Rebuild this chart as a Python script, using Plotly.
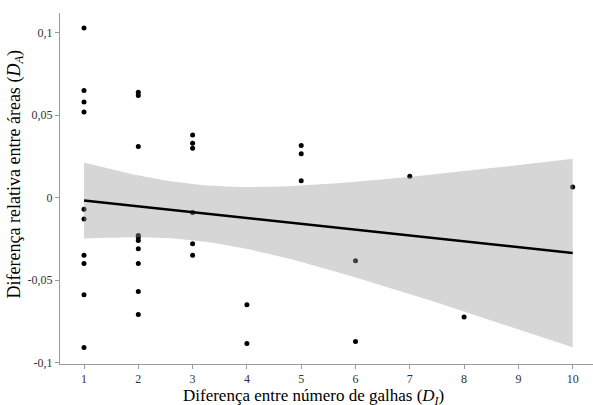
import numpy as np
import plotly.graph_objects as go

# Data
x_values = [1]*10 + [2]*10 + [3]*6 + [4]*2 + [5]*3 + [6]*2 + [7, 8, 10]
y_values = [0.103, 0.065, 0.058, 0.052, -0.007, -0.013, -0.035, -0.040, -0.059, -0.091,
            0.064, 0.062, 0.031, -0.023, -0.024, -0.026, -0.031, -0.040, -0.057, -0.071,
            0.038, 0.033, 0.030, -0.009, -0.028, -0.035,
            -0.065, -0.0886,
            0.0316, 0.0267, 0.0103,
            -0.0383, -0.0874,
            0.013, -0.0724, 0.0065]

x_ticks = [1, 2, 3, 4, 5, 6, 7, 8, 9, 10]
y_tickvals = [0.1, 0.05, 0, -0.05, -0.1]
y_ticktext = ["0,1", "0,05", "0", "-0,05", "-0,1"]
x_title = "Diferença entre número de galhas (<i>D</i><sub><i>I</i></sub>)"
y_title = "Diferença relativa entre áreas (<i>D</i><sub><i>A</i></sub>)"

# Linear fit with 95% confidence band (like ggplot geom_smooth(method="lm"))
x = np.array(x_values, dtype=float)
y = np.array(y_values, dtype=float)
n = len(x)
b1, b0 = np.polyfit(x, y, 1)
resid = y - (b0 + b1 * x)
s = np.sqrt(np.sum(resid**2) / (n - 2))
sxx = np.sum((x - x.mean())**2)
t_crit = 2.032  # t quantile 0.975, df = 34
xg = np.linspace(x.min(), x.max(), 80)
yg = b0 + b1 * xg
se = s * np.sqrt(1.0 / n + (xg - x.mean())**2 / sxx)
upper = yg + t_crit * se
lower = yg - t_crit * se

fig = go.Figure()
fig.add_trace(go.Scatter(x=x, y=y, mode="markers",
                         marker=dict(color="black", size=5), showlegend=False,
                         hoverinfo="x+y"))
fig.add_trace(go.Scatter(x=np.concatenate([xg, xg[::-1]]),
                         y=np.concatenate([upper, lower[::-1]]),
                         fill="toself", fillcolor="rgba(153,153,153,0.4)",
                         line=dict(width=0), mode="lines", showlegend=False,
                         hoverinfo="skip"))
fig.add_trace(go.Scatter(x=xg, y=yg, mode="lines",
                         line=dict(color="black", width=2.5), showlegend=False))

font_family = "Liberation Serif"
fig.update_layout(
    width=593, height=405,
    margin=dict(l=60, r=0, t=13, b=41, autoexpand=False),
    paper_bgcolor="white", plot_bgcolor="white",
    font=dict(family=font_family, color="black"),
    showlegend=False,
    annotations=[
        dict(text=x_title, xref="paper", yref="paper", x=0.4765, y=-0.093,
             xanchor="center", yanchor="middle", showarrow=False,
             font=dict(size=17, family=font_family, color="black")),
        dict(text=y_title, xref="paper", yref="paper", x=-0.0844, y=0.54,
             xanchor="center", yanchor="middle", showarrow=False, textangle=-90,
             font=dict(size=18, family=font_family, color="black")),
    ],
)
fig.update_xaxes(
    range=[0.558, 10.374], tickvals=x_ticks, ticktext=[str(v) for v in x_ticks],
    showgrid=False, zeroline=False, showline=True, linecolor="#9a9a9a", linewidth=1,
    ticks="outside", ticklen=4, tickcolor="#9a9a9a", automargin=False,
    tickfont=dict(size=12, color="#333333", family=font_family),
)
fig.update_yaxes(
    range=[-0.101, 0.1121], tickvals=y_tickvals, ticktext=y_ticktext,
    showgrid=False, zeroline=False, showline=True, linecolor="#9a9a9a", linewidth=1,
    ticks="outside", ticklen=4, tickcolor="#9a9a9a", automargin=False,
    tickfont=dict(size=12, color="#333333", family=font_family),
)

fig.write_html("out.html", config={"displayModeBar": False},
               post_script="document.body.style.margin='0';document.body.style.padding='0';")
